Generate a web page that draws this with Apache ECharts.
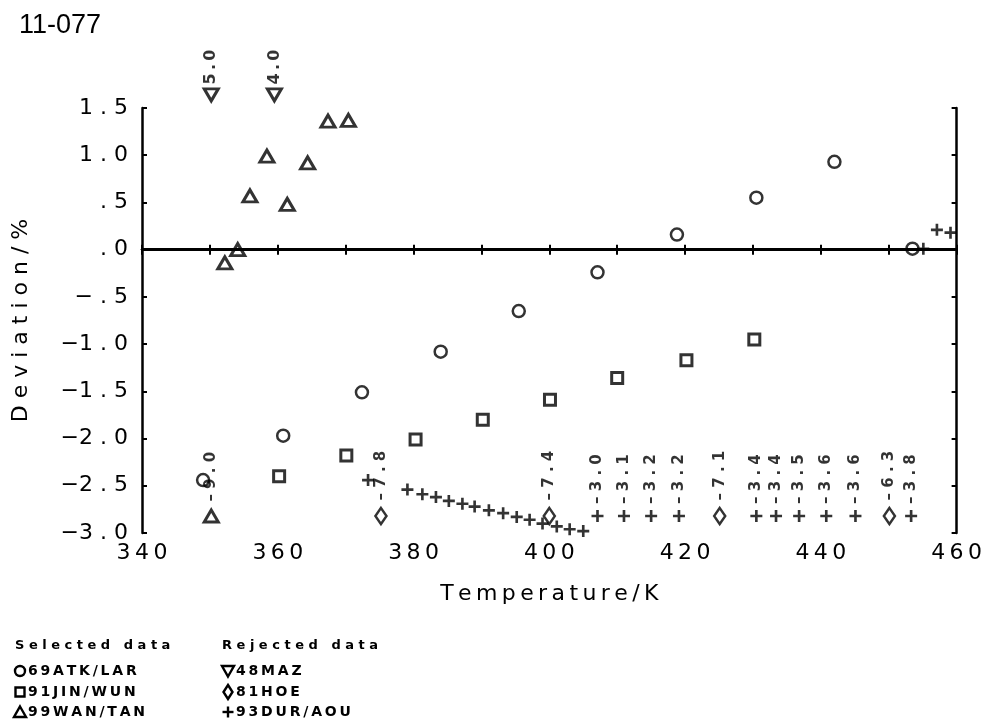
<!DOCTYPE html>
<html><head><meta charset="utf-8">
<script src="https://cdn.jsdelivr.net/npm/echarts@6/dist/echarts.min.js"></script>
<style>html,body{margin:0;padding:0;background:#fff}#c{width:985px;height:723px}</style>
</head><body><div id="c"></div>
<script>
// ---------- data ----------
const chartTitle = '11-077';
const xName = 'Temperature/K';
const yName = 'Deviation/%';
const xTickLabels = [340, 360, 380, 400, 420, 440, 460];
const yTickValues = [-3.0, -2.5, -2.0, -1.5, -1.0, -0.5, 0.0, 0.5, 1.0, 1.5];
const yTickLabels = ['-3.0', '-2.5', '-2.0', '-1.5', '-1.0', '-.5', '.0', '.5', '1.0', '1.5'];

// Selected data
const atkT   = [349.0, 360.8, 372.4, 384.0, 395.5, 407.1, 418.8, 430.5, 442.0, 453.5];
const atkDev = [-2.44, -1.97, -1.51, -1.08, -0.65, -0.24, 0.16, 0.55, 0.93, 0.01];
const jinT   = [360.2, 370.1, 380.3, 390.2, 400.1, 410.0, 420.2, 430.2];
const jinDev = [-2.40, -2.18, -2.01, -1.80, -1.59, -1.36, -1.17, -0.95];
const wanT   = [350.2, 352.2, 354.1, 355.9, 358.4, 361.4, 364.4, 367.4, 370.4];
const wanDev = [-9.0, -0.14, 0.00, 0.57, 0.99, 0.48, 0.92, 1.36, 1.37];
// Rejected data
const mazT   = [350.2, 359.5];
const mazDev = [5.0, 4.0];
const hoeT   = [375.2, 400.0, 425.1, 450.1];
const hoeDev = [-7.8, -7.4, -7.1, -6.3];
const durT   = [373.3, 379.1, 381.3, 383.3, 385.2, 387.2, 389.0, 391.1, 393.2, 395.2, 397.1, 399.0,
                401.1, 403.0, 405.0, 407.1, 411.0, 415.0, 419.1, 430.5, 433.4, 436.8, 440.8, 445.1,
                453.3, 455.1, 457.1, 459.1];
const durDev = [-2.44, -2.54, -2.59, -2.62, -2.66, -2.69, -2.72, -2.76, -2.79, -2.83, -2.86, -2.90,
                -2.93, -2.96, -2.98, -3.0, -3.1, -3.2, -3.2, -3.4, -3.4, -3.5, -3.6, -3.6,
                -3.8, 0.01, 0.21, 0.18];

const selectedNames = ['69ATK/LAR', '91JIN/WUN', '99WAN/TAN'];
const rejectedNames = ['48MAZ', '81HOE', '93DUR/AOU'];

// plotting rule of the original: off-scale values are drawn at fixed rows with their value written
const yMin = -3.0, yMax = 1.5;
const offLowRow = -2.82, offHighRow = 1.64;

// ---------- helpers ----------
const MINUS = '\u2212';
function fmtTick(s) {
  s = s.replace('-', MINUS);
  let out = '';
  for (let i = 0; i < s.length; i++) {
    out += s[i];
    if (i < s.length - 1 && !(s[i] === MINUS && /\d/.test(s[i + 1]))) out += ' ';
  }
  return out;
}
function spaced(s, sp) { return s.split('').join(sp); }
function fmtOff(v, sp) { return spaced(v.toFixed(1).replace('-', '\u2013'), sp); }

function buildData(T, D) {
  return T.map((t, i) => {
    const v = D[i];
    if (v <= yMin) return { value: [t, offLowRow], raw: v, label: { show: true } };
    if (v > yMax) return { value: [t, offHighRow], raw: v, label: { show: true } };
    return { value: [t, v], raw: v };
  });
}
const offLabel = (dist, fs, sp) => ({
  show: false, position: 'top', distance: dist, rotate: 90, align: 'left', verticalAlign: 'middle',
  formatter: p => fmtOff(p.data.raw, sp), color: '#000',
  fontFamily: 'DejaVu Sans', fontWeight: 'bold', fontSize: fs
});
const hollow = (bw) => ({ color: '#fff', borderColor: '#000', borderWidth: bw });
const plusPath = 'path://M3.9,0H6.1V3.9H10V6.1H6.1V10H3.9V6.1H0V3.9H3.9Z';

const chart = echarts.init(document.getElementById('c'), null, { renderer: 'canvas' });

// ---------- legend block (text + drawn symbols) ----------
const textFont = 'DejaVu Sans';
const legendG = [];
const lw = 2.4, st = { fill: '#fff', stroke: '#000', lineWidth: lw };
function sym(kind, cx, cy) {
  if (kind === 'circle') return { type: 'circle', shape: { cx, cy, r: 5 }, style: st };
  if (kind === 'rect') return { type: 'rect', shape: { x: cx - 4.5, y: cy - 4.5, width: 9, height: 9 }, style: st };
  if (kind === 'tri') return { type: 'polygon', shape: { points: [[cx, cy - 5.5], [cx + 6, cy + 5], [cx - 6, cy + 5]] }, style: st };
  if (kind === 'dtri') return { type: 'polygon', shape: { points: [[cx, cy + 5.5], [cx + 6, cy - 5], [cx - 6, cy - 5]] }, style: st };
  if (kind === 'dia') return { type: 'polygon', shape: { points: [[cx, cy - 7], [cx + 4.5, cy], [cx, cy + 7], [cx - 4.5, cy]] }, style: st };
  return { type: 'group', children: [
    { type: 'rect', shape: { x: cx - 5.5, y: cy - 1.2, width: 11, height: 2.4 }, style: { fill: '#000' } },
    { type: 'rect', shape: { x: cx - 1.2, y: cy - 5.5, width: 2.4, height: 11 }, style: { fill: '#000' } }] };
}
const selKinds = ['circle', 'rect', 'tri'], rejKinds = ['dtri', 'dia', 'plus'];
legendG.push({ type: 'text', style: { x: 15, y: 646, text: spaced('Selected', ' ') + '   ' + spaced('data', ' '),
  font: 'bold 13px "DejaVu Sans"', fill: '#000', verticalAlign: 'middle' } });
legendG.push({ type: 'text', style: { x: 222, y: 646, text: spaced('Rejected', ' ') + '   ' + spaced('data', ' '),
  font: 'bold 13px "DejaVu Sans"', fill: '#000', verticalAlign: 'middle' } });
const rowY = [671, 692, 712];
selectedNames.forEach((n, i) => {
  legendG.push(sym(selKinds[i], 20, rowY[i]));
  legendG.push({ type: 'text', style: { x: 28, y: rowY[i], text: spaced(n, '\u2009'),
    font: 'bold 14px "DejaVu Sans"', fill: '#000', verticalAlign: 'middle' } });
});
rejectedNames.forEach((n, i) => {
  legendG.push(sym(rejKinds[i], 228, rowY[i]));
  legendG.push({ type: 'text', style: { x: 236, y: rowY[i], text: spaced(n, '\u2009'),
    font: 'bold 14px "DejaVu Sans"', fill: '#000', verticalAlign: 'middle' } });
});

const axisLineStyle = { color: '#000', width: 2.5 };
const tickStyle = { show: true, inside: true, length: 5, lineStyle: { color: '#000', width: 2 } };

const option = {
  backgroundColor: '#fff',
  animation: false,
  title: { text: chartTitle, left: 14, top: 7, textStyle: { fontFamily: 'Liberation Sans', fontWeight: 'normal', fontSize: 27, color: '#000' } },
  graphic: legendG,
  grid: { left: 142, right: 28, top: 108, bottom: 190, containLabel: false },
  xAxis: [
    { type: 'value', position: 'bottom', min: 340, max: 460, interval: 10,
      name: spaced(xName, '\u2009'), nameLocation: 'middle', nameGap: 50,
      nameTextStyle: { fontFamily: textFont, fontSize: 22, color: '#000' },
      axisLine: { show: true, lineStyle: axisLineStyle }, axisTick: tickStyle, splitLine: { show: false },
      axisLabel: { margin: 9, fontFamily: textFont, fontSize: 22, color: '#000',
        formatter: v => xTickLabels.includes(v) ? spaced(String(v), '\u2009') : '' } },
    { type: 'value', position: 'top', min: 340, max: 460, interval: 10,
      axisLine: { show: true, lineStyle: axisLineStyle }, axisTick: tickStyle, splitLine: { show: false },
      axisLabel: { show: false } }
  ],
  yAxis: [
    { type: 'value', position: 'left', min: yMin, max: yMax, interval: 0.5,
      name: spaced(yName, ' '), nameLocation: 'middle', nameGap: 110, nameRotate: 90,
      nameTextStyle: { fontFamily: textFont, fontSize: 22, color: '#000' },
      axisLine: { show: true, lineStyle: axisLineStyle }, axisTick: tickStyle, splitLine: { show: false },
      axisLabel: { margin: 14, fontFamily: textFont, fontSize: 22, color: '#000',
        formatter: v => { const k = yTickValues.findIndex(t => Math.abs(t - v) < 1e-9); return k >= 0 ? fmtTick(yTickLabels[k]) : ''; } } },
    { type: 'value', position: 'right', min: yMin, max: yMax, interval: 0.5,
      axisLine: { show: true, lineStyle: axisLineStyle }, axisTick: tickStyle, splitLine: { show: false },
      axisLabel: { show: false } }
  ],
  series: [
    { name: selectedNames[0], type: 'scatter', clip: false, symbol: 'circle', symbolSize: 12,
      itemStyle: hollow(2.5), data: buildData(atkT, atkDev),
      markLine: { silent: true, symbol: 'none', label: { show: false }, lineStyle: { color: '#000', width: 3, type: 'solid' },
        data: [{ yAxis: 0 }] } },
    { name: selectedNames[1], type: 'scatter', clip: false, symbol: 'rect', symbolSize: 11,
      itemStyle: hollow(3), data: buildData(jinT, jinDev) },
    { name: selectedNames[2], type: 'scatter', clip: false, symbol: 'triangle', symbolSize: [14, 12],
      itemStyle: hollow(3), label: offLabel(7, 15, ' '), data: buildData(wanT, wanDev) },
    { name: rejectedNames[0], type: 'scatter', clip: false, symbol: 'triangle', symbolRotate: 180, symbolSize: [14, 12],
      itemStyle: hollow(3), label: offLabel(3, 16, '\u2009'), data: buildData(mazT, mazDev) },
    { name: rejectedNames[1], type: 'scatter', clip: false, symbol: 'diamond', symbolSize: [11, 16],
      itemStyle: hollow(2.6), label: offLabel(6, 15, ' '), data: buildData(hoeT, hoeDev) },
    { name: rejectedNames[2], type: 'scatter', clip: false, symbol: plusPath, symbolSize: 12,
      itemStyle: { color: '#000' }, label: offLabel(6, 15, ' '), data: buildData(durT, durDev) }
  ]
};
chart.setOption(option);
</script></body></html>
